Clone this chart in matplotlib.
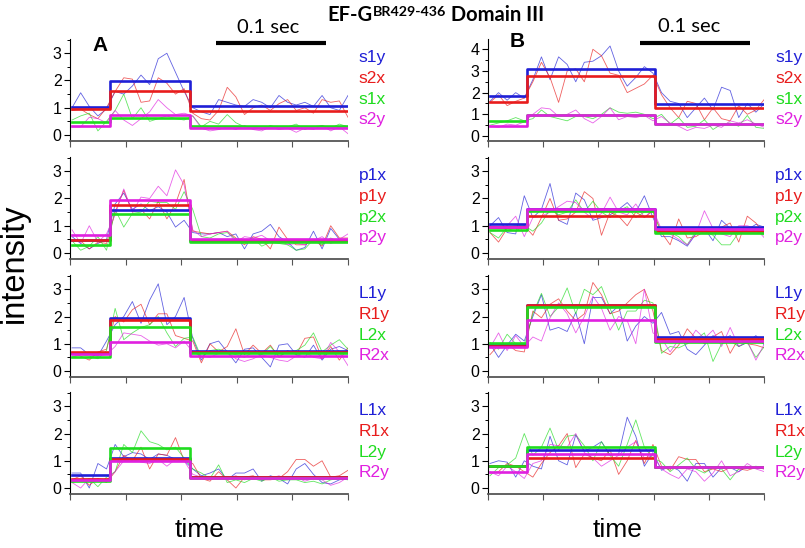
import numpy as np
import matplotlib
matplotlib.use("Agg")
import matplotlib.pyplot as plt
from matplotlib.text import Annotation

plt.rcParams['font.family'] = ['Liberation Sans', 'DejaVu Sans']

# frame time (s) and step times (s) for the two columns
dt = 0.0078
steps_a = [0.0343, 0.1069]
steps_b = [0.0340, 0.1505]

colors = ['#1f1fd6', '#e81c1c', '#1fdc1f', '#e020e0']

# ---- column A traces ----
a1_s1y = [1.0, 1.55, 1.05, 0.7, 0.95, 1.6, 1.5, 1.8, 2.2, 1.85, 2.8, 3.0, 2.3, 1.6,
          1.0, 0.85, 0.75, 1.3, 1.2, 1.1, 1.05, 1.3, 1.2, 1.0, 1.45, 1.2, 1.1, 1.2, 1.05, 1.45, 1.0, 0.9, 1.45]
a1_s2x = [0.9, 0.95, 0.75, 0.6, 1.0, 1.6, 2.1, 2.05, 1.2, 1.25, 2.1, 1.9, 1.5, 1.7,
          0.8, 0.6, 0.55, 0.9, 1.75, 1.4, 0.75, 1.0, 1.1, 0.9, 1.15, 1.3, 0.9, 1.0, 0.8, 1.3, 1.2, 1.25, 0.65]
a1_s1x = [0.55, 0.7, 0.8, 0.15, 0.5, 0.9, 1.5, 0.6, 1.0, 0.5, 0.6, 0.7, 0.6, 0.55,
          0.7, 0.3, 0.5, 0.4, 0.75, 0.45, 0.3, 0.3, 0.2, 0.35, 0.25, 0.3, 0.4, 0.2, 0.3, 0.35, 0.25, 0.4, 0.3]
a1_s2y = [0.3, 0.3, 0.65, 0.6, 0.45, 0.9, 0.55, 0.35, 0.6, 0.85, 1.3, 1.0, 0.75, 0.8,
          0.7, 0.25, 0.15, 0.2, 0.3, 0.2, 0.35, 0.2, 0.15, 0.3, 0.2, 0.25, 0.1, 0.25, 0.2, 0.35, 0.15, 0.3, 0.05]

a2_p1x = [0.6, 0.35, 0.15, 0.35, 0.5, 1.8, 2.2, 1.6, 1.8, 1.55, 1.7, 1.5, 0.95, 1.2,
          0.75, 0.7, 0.7, 0.75, 0.6, 0.7, 0.15, 0.7, 0.8, 1.05, 0.6, 0.4, 0.1, 0.2, 0.8, 0.15, 0.9, 0.5, 0.5]
a2_p1y = [0.5, 0.45, 0.15, 0.4, 0.35, 1.5, 2.3, 1.5, 1.6, 1.25, 1.9, 1.25, 1.8, 2.7,
          0.8, 0.75, 0.7, 0.75, 0.8, 0.55, 0.3, 0.6, 0.5, 0.15, 0.95, 0.5, 0.3, 0.3, 0.5, 0.25, 1.0, 0.55, 0.55]
a2_p2x = [0.45, 0.1, 0.25, 0.6, 0.1, 1.6, 0.95, 1.45, 1.5, 1.9, 1.85, 1.85, 1.6, 2.25,
          1.6, 0.6, 0.55, 0.7, 0.75, 0.5, 0.45, 0.55, 0.25, 0.4, 0.35, 0.3, 0.1, 0.15, 0.5, 0.3, 0.55, 0.4, 0.4]
a2_p2y = [0.85, 0.35, 1.0, 0.4, 0.7, 1.4, 2.35, 1.5, 2.05, 2.0, 2.45, 2.1, 3.05, 2.5,
          0.85, 0.6, 0.7, 0.75, 0.8, 0.4, 0.6, 0.55, 0.65, 0.45, 0.5, 0.3, 0.35, 0.3, 0.45, 0.6, 0.35, 0.5, 0.7]

a3_l1y = [0.85, 0.85, 0.6, 0.55, 1.1, 1.7, 2.0, 2.55, 1.75, 2.6, 3.2, 1.7, 2.0, 2.7,
          1.2, 0.4, 1.0, 1.1, 0.7, 0.3, 0.8, 0.85, 0.5, 0.15, 0.95, 1.0, 0.6, 0.5, 0.95, 0.4, 0.8, 0.9, 0.75]
a3_r1y = [0.7, 0.55, 0.4, 0.7, 0.8, 2.0, 1.8, 2.25, 2.45, 1.7, 2.1, 2.1, 1.3, 1.2,
          1.1, 0.3, 1.0, 0.7, 0.9, 1.55, 0.6, 0.95, 0.65, 0.95, 0.5, 0.75, 0.6, 1.2, 1.25, 0.45, 0.9, 0.4, 0.85]
a3_l2x = [0.5, 0.6, 0.55, 0.45, 0.75, 2.3, 1.15, 1.4, 1.6, 1.7, 2.0, 1.4, 0.9, 1.2,
          1.25, 0.5, 0.75, 0.8, 0.7, 0.6, 0.5, 0.7, 0.6, 0.9, 0.55, 0.7, 0.75, 0.95, 1.4, 0.7, 0.95, 1.15, 0.8]
a3_r2x = [0.5, 0.65, 0.7, 0.55, 0.6, 0.9, 1.4, 1.35, 1.3, 1.1, 0.95, 1.0, 0.85, 1.1,
          0.7, 0.55, 0.5, 0.65, 0.7, 0.45, 0.35, 0.45, 0.6, 0.5, 0.4, 0.35, 0.55, 0.7, 0.5, 0.45, 1.05, 0.7, 0.2]

a4_l1x = [0.55, 0.55, 0.0, 0.9, 0.7, 1.6, 1.15, 1.3, 1.25, 1.05, 1.25, 1.2, 1.05, 1.0,
          0.7, 0.45, 0.55, 0.7, 0.3, 0.55, 0.55, 0.7, 0.25, 0.45, 0.35, 0.15, 0.7, 0.9, 0.5, 0.2, 0.15, 0.3, 0.35]
a4_r1x = [0.3, 0.45, 0.1, 0.35, 0.2, 0.6, 1.2, 1.0, 1.5, 0.7, 1.25, 1.2, 1.85, 1.0,
          0.9, 0.35, 0.25, 0.6, 0.3, 0.0, 0.4, 0.45, 0.3, 0.3, 0.35, 0.6, 1.05, 1.05, 0.8, 1.0, 0.4, 0.45, 0.65]
a4_l2y = [0.2, 0.3, 0.35, 0.05, 0.4, 0.6, 1.6, 1.3, 2.1, 1.7, 1.6, 1.4, 1.5, 1.1,
          0.7, 0.55, 0.35, 0.85, 0.2, 0.3, 0.2, 0.35, 0.25, 0.4, 0.25, 0.3, 0.3, 0.2, 0.25, 0.15, 0.3, 0.35, 0.3]
a4_r2y = [0.2, 0.0, 0.35, 0.35, 0.3, 0.6, 1.0, 1.05, 0.95, 0.9, 1.05, 0.8, 1.05, 1.0,
          0.5, 0.4, 0.3, 0.4, 0.35, 0.45, 0.3, 0.4, 0.35, 0.35, 0.45, 0.3, 0.4, 0.25, 0.35, 0.3, 0.1, 0.2, 0.4]

# ---- column B traces ----
b1_s1y = [1.6, 2.0, 1.65, 2.0, 1.75, 2.6, 3.65, 2.6, 3.65, 3.3, 2.5, 3.4, 3.45, 3.7, 4.15, 3.0, 2.3, 2.7, 3.2, 2.9,
          2.0, 1.6, 1.5, 0.85, 1.3, 1.75, 1.2, 2.25, 2.1, 0.85, 1.5, 1.1, 1.5]
b1_s2x = [1.55, 1.9, 1.4, 1.6, 1.75, 2.5, 3.4, 2.7, 1.55, 3.0, 3.1, 2.5, 4.0, 3.7, 2.9, 2.8, 2.0, 2.2, 2.4, 2.8,
          1.9, 1.3, 0.85, 1.6, 1.5, 0.75, 1.3, 0.8, 0.7, 1.4, 1.0, 1.2, 1.7]
b1_s1x = [0.5, 0.6, 0.7, 0.85, 0.7, 0.8, 1.2, 0.9, 0.8, 0.7, 0.9, 0.9, 0.8, 1.0, 1.3, 1.1, 1.05, 1.1, 1.0, 0.8,
          1.0, 0.55, 0.85, 0.4, 0.45, 0.75, 0.3, 0.55, 0.6, 0.45, 0.95, 0.4, 0.35]
b1_s2y = [0.45, 0.4, 0.55, 0.5, 0.65, 1.0, 1.3, 1.25, 0.9, 1.0, 1.2, 0.8, 0.6, 0.9, 1.3, 0.75, 0.9, 0.85, 0.95, 0.7,
          0.9, 0.6, 0.45, 0.25, 0.4, 0.35, 0.5, 0.4, 0.7, 0.6, 0.75, 0.55, 0.4]

b2_p1x = [1.0, 1.3, 0.75, 0.7, 2.1, 1.3, 1.6, 2.55, 1.2, 1.05, 2.2, 1.95, 1.2, 1.3, 1.4, 1.6, 1.85, 1.5, 2.1, 1.3,
          0.6, 0.6, 0.45, 0.25, 0.7, 0.9, 0.45, 1.2, 0.9, 0.7, 0.85, 1.05, 0.95]
b2_p1y = [0.75, 0.4, 0.9, 0.8, 1.0, 0.65, 1.3, 2.0, 1.2, 1.25, 1.5, 2.25, 2.0, 0.65, 1.5, 1.35, 1.0, 1.5, 1.3, 1.55,
          0.75, 0.3, 1.25, 0.55, 0.6, 0.8, 0.7, 0.95, 1.1, 0.4, 1.35, 1.1, 0.7]
b2_p2x = [0.75, 0.55, 0.95, 1.0, 1.0, 0.8, 1.1, 1.6, 1.4, 1.5, 1.95, 1.5, 1.9, 1.5, 1.3, 1.55, 1.7, 1.3, 1.5, 1.5,
          0.7, 0.75, 0.6, 0.3, 0.8, 0.8, 0.65, 0.3, 0.3, 0.75, 0.9, 0.8, 0.65]
b2_p2y = [1.0, 0.9, 1.0, 1.35, 0.6, 1.3, 1.35, 1.5, 1.7, 1.9, 1.85, 1.5, 1.25, 1.45, 2.05, 1.5, 1.4, 1.8, 1.3, 1.6,
          0.85, 0.7, 0.5, 0.3, 0.7, 1.55, 0.9, 0.7, 0.6, 1.0, 1.0, 0.9, 0.55]

b3_l1y = [1.0, 0.5, 0.95, 1.35, 1.1, 2.0, 2.8, 1.5, 1.6, 1.45, 2.15, 1.0, 2.7, 2.7, 2.1, 2.4, 1.1, 1.65, 2.0, 1.75,
          2.15, 1.35, 1.45, 0.8, 0.6, 0.95, 1.3, 1.1, 1.3, 0.9, 1.05, 1.3, 0.95]
b3_r1y = [0.6, 0.95, 1.0, 0.75, 0.7, 2.2, 1.95, 2.45, 2.65, 2.2, 1.85, 2.1, 3.25, 2.8, 2.1, 2.2, 2.5, 2.8, 3.0, 2.2,
          0.75, 0.6, 0.95, 1.55, 1.2, 1.0, 1.25, 1.45, 0.65, 1.2, 1.0, 0.95, 0.85]
b3_l2x = [1.05, 0.8, 1.35, 1.0, 0.95, 2.1, 2.85, 2.0, 2.35, 3.05, 2.1, 3.0, 2.8, 3.1, 2.3, 1.5, 2.2, 2.2, 2.6, 2.5,
          0.65, 0.9, 0.85, 1.0, 1.15, 1.4, 0.35, 1.0, 1.1, 0.9, 1.05, 0.5, 0.9]
b3_r2x = [0.85, 1.4, 0.75, 1.3, 0.9, 1.25, 1.1, 1.95, 2.5, 2.1, 1.4, 2.0, 2.75, 2.3, 1.5, 2.0, 1.85, 1.0, 3.0, 1.4,
          1.2, 0.7, 1.15, 1.0, 1.5, 1.2, 1.5, 0.9, 1.6, 0.9, 1.1, 0.4, 1.0]

b4_l1x = [0.9, 1.0, 0.95, 0.4, 1.0, 0.8, 0.7, 1.9, 1.0, 0.85, 1.95, 1.35, 1.5, 1.7, 1.2, 1.25, 2.6, 1.9, 0.8, 1.3,
          0.65, 0.8, 0.65, 0.25, 0.9, 0.9, 0.4, 0.75, 0.75, 0.6, 0.8, 0.75, 0.7]
b4_r1x = [0.55, 0.6, 0.9, 0.8, 0.6, 0.4, 0.9, 1.3, 1.55, 2.0, 0.75, 1.25, 1.1, 1.0, 1.4, 0.5, 1.0, 1.75, 0.9, 1.6,
          0.8, 0.65, 1.15, 1.05, 1.05, 0.6, 0.7, 0.6, 0.75, 0.7, 0.65, 0.75, 0.7]
b4_l2y = [0.45, 0.75, 0.85, 1.1, 2.0, 1.2, 1.5, 2.2, 1.4, 1.9, 1.95, 1.55, 1.0, 1.7, 1.2, 0.8, 1.6, 2.5, 1.5, 1.1,
          0.95, 0.6, 0.85, 1.1, 0.7, 0.55, 0.75, 0.7, 0.3, 0.7, 0.75, 0.8, 0.75]
b4_r2y = [0.6, 0.45, 0.8, 0.6, 0.35, 0.9, 1.0, 1.6, 1.55, 1.5, 2.0, 1.3, 1.1, 0.8, 1.0, 1.2, 1.5, 1.7, 1.1, 1.2,
          0.7, 0.5, 0.35, 0.7, 0.6, 0.25, 0.55, 1.0, 0.45, 0.6, 0.9, 0.7, 0.6]

# fitted step levels (before, during, after) for blue, red, green, magenta
a1_levels = [[1.04, 1.98, 1.06], [0.96, 1.63, 0.88], [0.48, 0.62, 0.32], [0.33, 0.72, 0.27]]
a2_levels = [[0.46, 1.56, 0.49], [0.46, 1.75, 0.49], [0.28, 1.42, 0.40], [0.65, 1.94, 0.51]]
a3_levels = [[0.65, 1.94, 0.72], [0.68, 1.88, 0.70], [0.52, 1.60, 0.65], [0.64, 1.07, 0.56]]
a4_levels = [[0.47, 1.10, 0.40], [0.34, 1.08, 0.40], [0.24, 1.47, 0.37], [0.30, 1.00, 0.37]]
b1_levels = [[1.85, 3.10, 1.49], [1.57, 2.79, 1.28], [0.70, 0.98, 0.56], [0.48, 0.99, 0.56]]
b2_levels = [[1.06, 1.61, 0.94], [0.96, 1.37, 0.82], [0.84, 1.53, 0.73], [0.96, 1.61, 0.88]]
b3_levels = [[0.95, 2.42, 1.24], [0.91, 2.44, 1.16], [1.04, 2.36, 1.06], [0.88, 1.89, 1.09]]
b4_levels = [[0.80, 1.38, 0.77], [0.79, 1.11, 0.77], [0.79, 1.52, 0.77], [0.60, 1.24, 0.76]]

row_labels = [['s1y', 's2x', 's1x', 's2y'],
              ['p1x', 'p1y', 'p2x', 'p2y'],
              ['L1y', 'R1y', 'L2x', 'R2x'],
              ['L1x', 'R1x', 'L2y', 'R2y']]

col_a = [[a1_s1y, a1_s2x, a1_s1x, a1_s2y], [a2_p1x, a2_p1y, a2_p2x, a2_p2y],
         [a3_l1y, a3_r1y, a3_l2x, a3_r2x], [a4_l1x, a4_r1x, a4_l2y, a4_r2y]]
col_b = [[b1_s1y, b1_s2x, b1_s1x, b1_s2y], [b2_p1x, b2_p1y, b2_p2x, b2_p2y],
         [b3_l1y, b3_r1y, b3_l2x, b3_r2x], [b4_l1x, b4_r1x, b4_l2y, b4_r2y]]
lev_a = [a1_levels, a2_levels, a3_levels, a4_levels]
lev_b = [b1_levels, b2_levels, b3_levels, b4_levels]

fig = plt.figure(figsize=(8.05, 5.48), dpi=100)

bottoms = [0.7427, 0.5274, 0.312, 0.0985]
lefts = [0.087, 0.6062]
widths = [0.3447, 0.3429]
xlim = (-0.0018, 0.2492)


def draw_panel(ax, traces, levels, steps, labels, ylim):
    t_end = (len(traces[0]) - 1) * dt
    for y, c in zip(traces, colors):
        t = np.arange(len(y)) * dt
        ax.plot(t, y, color=c, lw=0.6, alpha=0.7)
    for lv, c in zip(levels, colors):
        sx = [0, steps[0], steps[0], steps[1], steps[1], t_end]
        sy = [lv[0], lv[0], lv[1], lv[1], lv[2], lv[2]]
        ax.plot(sx, sy, color=c, lw=1.9)
    ax.set_xlim(*xlim)
    ax.set_ylim(*ylim)
    ax.set_xticks(np.linspace(xlim[0], xlim[1], 6))
    ax.set_xticklabels([])
    ax.set_yticks(np.arange(0, int(ylim[1]) + 1))
    ax.set_yticks(np.arange(0.5, ylim[1], 1.0), minor=True)
    ax.tick_params(axis='y', which='major', labelsize=11.5, length=4, width=0.8, pad=2)
    ax.tick_params(axis='y', which='minor', length=2.5, width=0.7)
    ax.tick_params(axis='x', length=4, width=0.8, color='#555555')
    ax.spines['top'].set_visible(False)
    ax.spines['right'].set_visible(False)
    ax.spines['left'].set_linewidth(0.8)
    ax.spines['bottom'].set_linewidth(1.3)
    ax.spines['bottom'].set_color('#555555')
    for i, (lab, c) in enumerate(zip(labels, colors)):
        ax.text(1.04, [0.82, 0.61, 0.41, 0.21][i], lab, color=c, fontsize=12.5,
                transform=ax.transAxes, ha='left', va='center')


axes = []
for r in range(4):
    ax_a = fig.add_axes([lefts[0], bottoms[r], widths[0], 0.186])
    draw_panel(ax_a, col_a[r], lev_a[r], steps_a, row_labels[r], (-0.22, 3.52))
    ax_b = fig.add_axes([lefts[1], bottoms[r], widths[1], 0.186])
    ylim_b = (-0.23, 4.47) if r == 0 else (-0.22, 3.52)
    draw_panel(ax_b, col_b[r], lev_b[r], steps_b, row_labels[r], ylim_b)
    axes.append((ax_a, ax_b))

# panel letters and scale bars
top_a, top_b = axes[0]
top_a.text(0.108, 0.94, 'A', transform=top_a.transAxes, fontsize=15, fontweight='bold',
           ha='center', va='center')
top_b.text(0.105, 0.98, 'B', transform=top_b.transAxes, fontsize=15, fontweight='bold',
           ha='center', va='center')

top_a.plot([0.130, 0.230], [3.37, 3.37], color='k', lw=3, solid_capstyle='butt', clip_on=False)
top_a.text(0.177, 3.93, '0.1 sec', fontfamily='Lato', fontsize=14.5, ha='center', va='center')
top_b.plot([0.136, 0.236], [4.28, 4.28], color='k', lw=3, solid_capstyle='butt', clip_on=False)
top_b.text(0.181, 5.05, '0.1 sec', fontfamily='Lato', fontsize=14.5, ha='center', va='center')

# axis labels
fig.text(0.018, 0.519, 'intensity', rotation=90, fontsize=23.5, ha='center', va='center')
fig.text(0.2484, 0.033, 'time', fontsize=19, ha='center', va='center')
fig.text(0.767, 0.033, 'time', fontsize=19, ha='center', va='center')

# title with superscript
title_kw = dict(fontfamily='Lato', fontweight='bold', color='black')
t1 = fig.text(0.4065, 0.954, 'EF-G', fontsize=14.5, ha='left', va='bottom', **title_kw)
t2 = Annotation('BR429-436', xy=(1, 0), xycoords=t1, xytext=(0.5, 5.5),
                textcoords='offset points', fontsize=10.3, ha='left', va='bottom', **title_kw)
fig.add_artist(t2)
t3 = Annotation(' Domain III', xy=(1, 0), xycoords=t2, xytext=(0, -5.5),
                textcoords='offset points', fontsize=14.5, ha='left', va='bottom', **title_kw)
fig.add_artist(t3)

fig.savefig('out.png', dpi=100)
